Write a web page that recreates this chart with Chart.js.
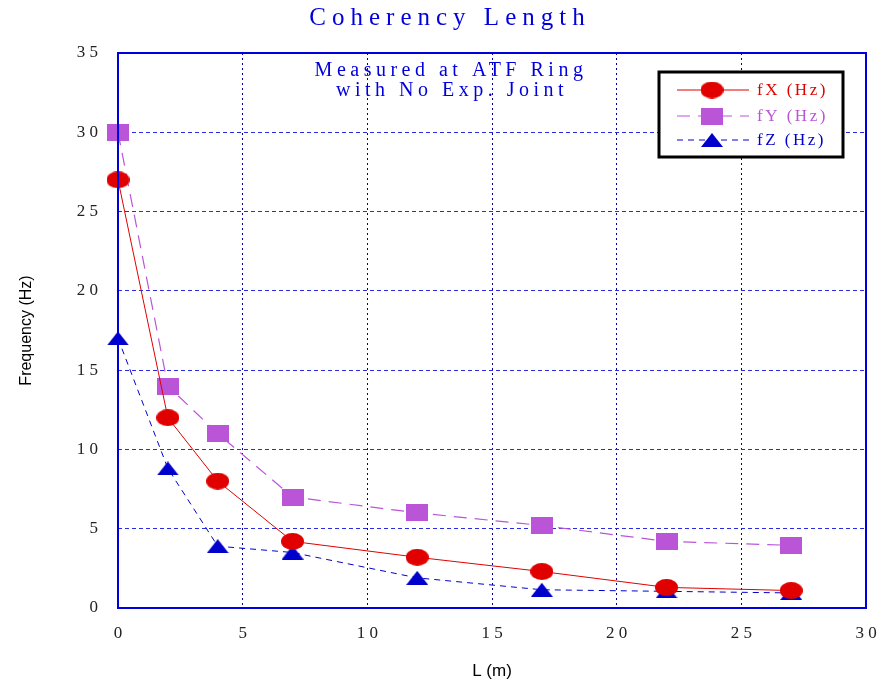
<!DOCTYPE html>
<html>
<head>
<meta charset="utf-8">
<script src="https://cdn.jsdelivr.net/npm/chart.js@4"></script>
<style>
  html, body { margin: 0; background: #fff; }
  #wrap { width: 884px; height: 686px; }
</style>
</head>
<body>
<div id="wrap"><canvas id="c"></canvas></div>
<script>
// data
const lengths = [0, 2, 4, 7, 12, 17, 22, 27];
const fX = [27, 12, 8, 4.2, 3.2, 2.3, 1.3, 1.1];
const fY = [30, 14, 11, 7, 6, 5.2, 4.2, 3.95];
const fZ = [17, 8.8, 3.9, 3.5, 1.9, 1.15, 1.05, 0.95];
const seriesNames = ['fX (Hz)', 'fY (Hz)', 'fZ (Hz)'];
const xTicks = [0, 5, 10, 15, 20, 25, 30];
const yTicks = [0, 5, 10, 15, 20, 25, 30, 35];

const RED = '#e00000';
const VIOLET = '#bb55d8';
const BLUE = '#0000cc';

// marker images
function makeMarker(w, h, color, shape) {
  const c = document.createElement('canvas');
  c.width = w; c.height = h;
  const g = c.getContext('2d');
  g.fillStyle = color;
  g.beginPath();
  if (shape === 'ellipse') {
    g.ellipse(w / 2, h / 2, w / 2, h / 2, 0, 0, Math.PI * 2);
  } else if (shape === 'rect') {
    g.rect(0, 0, w, h);
  } else {
    g.moveTo(w / 2, 0);
    g.lineTo(w, h);
    g.lineTo(0, h);
    g.closePath();
  }
  g.fill();
  return c;
}
const dot = makeMarker(23, 17, RED, 'ellipse');
const box = makeMarker(22, 17, VIOLET, 'rect');
const tri = makeMarker(22, 14, BLUE, 'tri');

function pts(ys) {
  return lengths.map((x, i) => ({ x: x, y: ys[i] }));
}
function spaced(v) {
  return String(v).split('').join(' ');
}

const extras = {
  id: 'extras',
  afterDraw(chart) {
    const ctx = chart.ctx;
    const a = chart.chartArea;
    ctx.save();
    // frame
    ctx.strokeStyle = '#0000dd';
    ctx.lineWidth = 2;
    ctx.strokeRect(a.left, a.top, a.right - a.left, a.bottom - a.top);

    // title
    ctx.fillStyle = '#0000dd';
    ctx.textAlign = 'center';
    ctx.textBaseline = 'middle';
    ctx.font = '25px "Liberation Serif"';
    ctx.letterSpacing = '6px';
    ctx.fillText('Coherency Length', 450, 18);

    // note inside plot
    ctx.font = '20px "Liberation Serif"';
    ctx.letterSpacing = '4.5px';
    ctx.fillText('Measured at ATF Ring', 451, 71);
    ctx.fillText('with No Exp. Joint', 452, 91);

    // legend
    ctx.letterSpacing = '0px';
    ctx.lineWidth = 3;
    ctx.strokeStyle = '#000';
    ctx.fillStyle = '#fff';
    ctx.fillRect(659, 72, 184, 85);
    ctx.strokeRect(659, 72, 184, 85);
    const rows = [90, 116, 140];
    chart.data.datasets.forEach((ds, i) => {
      const y = rows[i];
      ctx.save();
      ctx.strokeStyle = ds.borderColor;
      ctx.lineWidth = 1;
      ctx.setLineDash(ds.borderDash || []);
      ctx.beginPath();
      ctx.moveTo(677, y);
      ctx.lineTo(749, y);
      ctx.stroke();
      ctx.restore();
      const img = ds.pointStyle;
      ctx.drawImage(img, 712 - img.width / 2, y - img.height / 2);
      ctx.fillStyle = ds.borderColor;
      ctx.textAlign = 'left';
      ctx.font = '17px "Liberation Serif"';
      ctx.letterSpacing = '2.5px';
      ctx.fillText(ds.label, 757, y + 1);
      ctx.letterSpacing = '0px';
    });
    ctx.restore();
  }
};

new Chart(document.getElementById('c'), {
  type: 'line',
  data: {
    datasets: [
      {
        label: seriesNames[0],
        data: pts(fX),
        borderColor: RED,
        backgroundColor: RED,
        borderWidth: 1,
        pointStyle: dot,
        clip: false
      },
      {
        label: seriesNames[1],
        data: pts(fY),
        borderColor: VIOLET,
        backgroundColor: VIOLET,
        borderWidth: 1.2,
        borderDash: [13, 8],
        pointStyle: box,
        clip: false
      },
      {
        label: seriesNames[2],
        data: pts(fZ),
        borderColor: BLUE,
        backgroundColor: BLUE,
        borderWidth: 1,
        borderDash: [6, 5],
        pointStyle: tri,
        clip: false
      }
    ]
  },
  options: {
    responsive: true,
    maintainAspectRatio: false,
    animation: false,
    layout: { padding: { top: 53, right: 18, left: 0, bottom: 0 } },
    plugins: {
      legend: { display: false },
      tooltip: { enabled: false }
    },
    scales: {
      x: {
        type: 'linear',
        min: 0,
        max: 30,
        afterFit: s => { s.height = 78; s.paddingLeft = 0; s.paddingRight = 0; },
        afterBuildTicks: s => { s.ticks = xTicks.map(v => ({ value: v })); },
        ticks: {
          padding: 15,
          color: '#222',
          font: { family: 'Liberation Serif', size: 17 },
          maxRotation: 0,
          callback: v => spaced(v)
        },
        grid: { color: '#0000a0', lineWidth: 1, drawTicks: false },
        border: { display: false, dash: [2, 3] },
        title: {
          display: true,
          text: 'L (m)',
          color: '#000',
          font: { family: 'Liberation Sans', size: 17 },
          padding: { top: 0, bottom: 4 }
        }
      },
      y: {
        min: 0,
        max: 35,
        afterFit: s => { s.width = 118; s.paddingTop = 0; s.paddingBottom = 0; },
        afterBuildTicks: s => { s.ticks = yTicks.map(v => ({ value: v })); },
        ticks: {
          padding: 20,
          color: '#222',
          font: { family: 'Liberation Serif', size: 17 },
          callback: v => spaced(v)
        },
        grid: { color: '#2a2ae0', lineWidth: 1, drawTicks: false },
        border: { display: false, dash: [4, 3] },
        title: {
          display: true,
          text: 'Frequency (Hz)',
          color: '#000',
          font: { family: 'Liberation Sans', size: 16 },
          padding: { top: 17, bottom: 0 }
        }
      }
    }
  },
  plugins: [extras]
});
</script>
</body>
</html>
